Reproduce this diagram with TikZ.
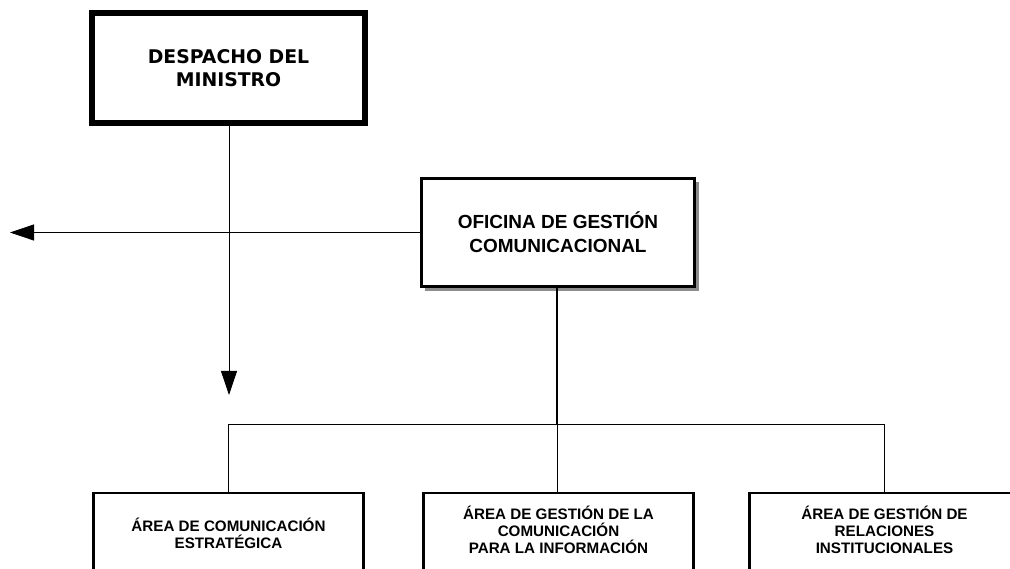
\documentclass[tikz,border=0pt]{standalone}
\usepackage{fontspec}
\setmainfont{Liberation Sans}
\newfontfamily\dejavu{DejaVu Sans}
\usetikzlibrary{arrows.meta,shadows}

\begin{document}
\begin{tikzpicture}[x=0.025cm, y=-0.025cm, thick,
        top node/.style={rectangle, draw, line width=4.3pt, minimum width=6.825cm, minimum height=2.75cm,
            align=center, font=\dejavu\bfseries\fontsize{13.4}{16.4}\selectfont},
        office node/.style={rectangle, draw, fill=white, line width=2.1pt, minimum width=6.825cm, minimum height=2.7cm,
            align=center, font=\bfseries\fontsize{13.5}{17}\selectfont,
            drop shadow={shadow xshift=0.1cm, shadow yshift=-0.1cm, fill=black!45, opacity=1}},
        area node/.style={rectangle, draw, line width=2.1pt, minimum width=6.75cm, minimum height=5cm, anchor=north},
        area text/.style={align=center, font=\bfseries\fontsize{10.8}{12.2}\selectfont},
        link/.style={line width=0.6pt},
        big arrow/.style={line width=0.6pt, -{Triangle[length=0.6cm, width=0.4cm]}}]

    \clip (0,0) rectangle (1010,569);

    % Unidades
    \node[top node] (despacho) at (228.5,68) {DESPACHO DEL\\MINISTRO};
    \node[office node] (oficina) at (558,232.5) {OFICINA DE GESTIÓN\\COMUNICACIONAL};

    \node[area node] (a1) at (228.5,491.5) {};
    \node[area node] (a2) at (558.5,491.5) {};
    \node[area node] (a3) at (884.5,491.5) {};
    \node[area text] (t1) at (228.5,533.5) {ÁREA DE COMUNICACIÓN\\ESTRATÉGICA};
    \node[area text] (t2) at (558.5,530) {ÁREA DE GESTIÓN DE LA\\COMUNICACIÓN\\PARA LA INFORMACIÓN};
    \node[area text] (t3) at (884.5,530) {ÁREA DE GESTIÓN DE\\RELACIONES\\INSTITUCIONALES};

    \coordinate (downtip) at (229,395);
    \coordinate (lefttip) at (10,232.5);
    \coordinate (bus) at (557,424);

    % Conexiones
    \draw[big arrow] (despacho.south -| downtip) -- (downtip);
    \draw[big arrow] (oficina.west) -- (lefttip);
    \draw[line width=1.4pt] (oficina.south -| bus) -- (bus);
    \draw[link] (a1.north |- bus) -- (a3.north |- bus);
    \draw[link] (a1.north |- bus) -- (a1.north);
    \draw[link] (bus) -- (bus |- a2.north);
    \draw[link] (a3.north |- bus) -- (a3.north);
\end{tikzpicture}
\end{document}
